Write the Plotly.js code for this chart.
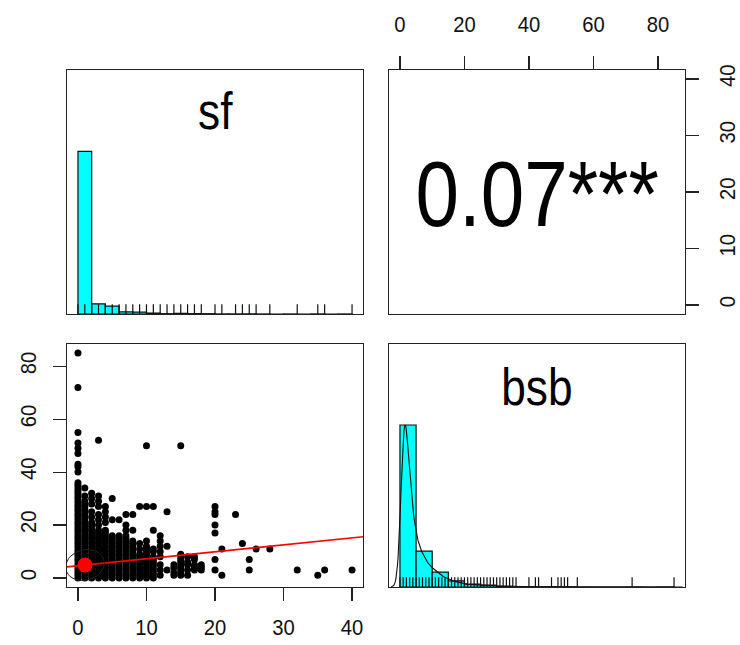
<!DOCTYPE html>
<html><head><meta charset="utf-8">
<script src="https://cdn.plot.ly/plotly-3.0.1.min.js"></script>
<style>html,body{margin:0;padding:0;background:#fff}</style>
</head><body>
<div id="chart" style="width:740px;height:645px"></div>
<script>
// ---------------- data ----------------
const varNames = ['sf', 'bsb'];
const corrLabel = '0.07***';
const sfBinWidth = 2;    // histogram bin width for sf
const bsbBinWidth = 5;   // histogram bin width for bsb

// distinct sf values (x of the scatter)
const sfLevels = [0,1,2,3,4,5,6,7,8,9,10,11,12,13,14,15,16,17,18,20,21,23,24,25,26,28,32,35,36,40];
// bsb values observed at each sf value
const bsbAtLevel = [
  [0,1,2,3,4,5,6,7,8,9,10,11,12,13,14,15,16,17,18,19,20,21,22,23,24,25,26,27,28,29,30,31,32,33,34,35,36,40,42,43,47,49,51,55,72,85],
  [0,1,2,3,4,5,6,7,8,9,10,11,12,13,14,15,16,17,18,19,20,21,22,23,24,25,26,27,28,29,31,34],
  [0,1,2,3,4,5,6,7,8,9,10,11,12,13,14,15,16,17,18,19,20,21,23,25,28,30,32],
  [0,1,2,3,4,5,6,7,8,9,10,11,12,13,14,15,16,17,18,20,22,24,27,29,31,52],
  [0,1,2,3,4,5,6,7,8,9,10,11,12,13,14,15,16,17,18,21,23,25,27],
  [0,1,2,3,4,5,6,7,8,9,10,11,12,13,14,15,16,22,30],
  [0,1,2,3,4,5,6,7,8,9,10,11,12,13,14,15,16,22],
  [0,1,2,3,4,5,6,7,8,9,10,11,12,13,14,15,16,18,20,24],
  [0,1,2,3,4,5,6,7,8,9,10,11,12,13,14,18,24],
  [0,1,2,3,4,5,6,7,8,9,11,13,27],
  [0,1,2,3,4,5,6,7,8,9,10,11,12,14,27,50],
  [0,1,2,3,4,5,6,7,8,10,11,18,27],
  [1,3,5,8,10,12,14,16],
  [3,12,25],
  [1,2,4,5],
  [1,2,3,4,5,6,7,8,9,50],
  [1,3,5,6,8],
  [3,4,5,7,8],
  [3,4,5],
  [3,7,17,20,24,25,27],
  [1,11],
  [24],
  [13],
  [3,7],
  [11],
  [11],
  [3],
  [1],
  [3],
  [3]
];
// number of observations at each (sf, bsb) point
const countAtLevel = [
  [90,855,659,401,250,170,128,100,80,66,56,50,43,37,33,28,22,19,16,14,12,9,7,6,5,5,5,5,4,3,3,3,2,2,1,1,1,1,1,1,1,1,1,1,1,1],
  [8,60,50,35,25,18,14,11,9,7,6,5,4,4,3,3,2,2,2,1,1,1,1,1,1,1,1,1,1,1,1,1],
  [5,35,30,22,16,11,9,7,5,4,4,3,2,2,1,1,1,1,1,1,1,1,1,1,1,1,1],
  [3,16,16,14,12,11,10,8,7,6,5,4,3,1,1,1,1,1,1,1,1,1,1,1,1,1],
  [2,12,12,11,10,9,8,7,6,5,4,4,1,1,1,1,1,1,1,1,1,1,1],
  [2,12,12,11,10,9,8,7,7,5,4,4,1,1,1,1,1,1,1],
  [1,10,10,9,8,7,6,6,5,4,4,1,1,1,1,1,1,1],
  [1,3,2,2,1,1,1,1,2,2,2,2,2,2,2,1,1,1,1,1],
  [1,2,1,1,1,1,1,1,1,1,1,1,1,1,1,1,1],
  [1,2,1,1,1,1,1,1,1,1,1,1,1],
  [1,3,2,2,1,1,2,2,2,2,2,2,2,1,1,1],
  [1,1,1,1,1,1,1,1,1,1,1,1,1],
  [1,1,1,1,1,1,1,1],
  [1,1,1],
  [1,1,1,1],
  [1,1,1,1,1,1,1,1,1,1],
  [1,1,1,1,1],
  [1,1,1,1,1],
  [1,1,1],
  [1,1,1,1,1,1,1],
  [1,1],
  [1],
  [1],
  [1,1],
  [1],
  [1],
  [1],
  [1],
  [1],
  [1]
];
const sfTicks = [0,10,20,30,40];
const bsbTicks = [0,20,40,60,80];

// ---------------- derived ----------------
const px = [], py = [], pw = [];
sfLevels.forEach((s, i) => bsbAtLevel[i].forEach((b, j) => { px.push(s); py.push(b); pw.push(countAtLevel[i][j]); }));
const fullX = [], fullY = [];
px.forEach((x, k) => { for (let c = 0; c < pw[k]; c++) { fullX.push(x); fullY.push(py[k]); } });
const N = fullX.length;
const mean = a => a.reduce((s, v) => s + v, 0) / a.length;
const xm = mean(fullX), ym = mean(fullY);
let sxx = 0, syy = 0, sxy = 0;
for (let i = 0; i < N; i++) { const dx = fullX[i] - xm, dy = fullY[i] - ym; sxx += dx*dx; syy += dy*dy; sxy += dx*dy; }
const xs = Math.sqrt(sxx/(N-1)), ys = Math.sqrt(syy/(N-1)), r = sxy/Math.sqrt(sxx*syy);
const slope = sxy/sxx, icpt = ym - slope*xm;

function padRange(a) { const lo = Math.min(...a), hi = Math.max(...a), d = hi - lo; return [lo - 0.04*d, hi + 0.04*d]; }
const sfRange = padRange(fullX), bsbRange = padRange(fullY);

function quantile7(sorted, p) { const h = (sorted.length - 1)*p, lo = Math.floor(h); return sorted[lo] + (h - lo)*((sorted[lo+1] ?? sorted[lo]) - sorted[lo]); }

function hist(vals, bw) {
  const lo = Math.floor(Math.min(...vals)/bw)*bw, hi = Math.ceil(Math.max(...vals)/bw)*bw;
  const nb = Math.round((hi - lo)/bw), cnt = new Array(nb).fill(0);
  vals.forEach(v => { let k = Math.ceil((v - lo)/bw) - 1; if (k < 0) k = 0; cnt[k]++; });
  const mx = Math.max(...cnt);
  return { x: cnt.map((c, k) => lo + bw*(k + 0.5)), y: cnt.map(c => c/mx) };
}
function density(vals) {
  const s = vals.slice().sort((a, b) => a - b);
  const n = s.length, m = mean(s);
  const sd = Math.sqrt(s.reduce((t, v) => t + (v-m)*(v-m), 0)/(n-1));
  const iqr = quantile7(s, 0.75) - quantile7(s, 0.25);
  const bw = 1.2*1.06*Math.min(sd, iqr/1.34)*Math.pow(n, -0.2);
  if (!(bw > 0)) return null;   // R: bandwidth not positive -> no curve
  const uniq = {}; s.forEach(v => uniq[v] = (uniq[v] || 0) + 1);
  const keys = Object.keys(uniq).map(Number);
  const from = s[0] - 3*bw, to = s[n-1] + 3*bw, gx = [], gy = [];
  for (let i = 0; i < 512; i++) {
    const x = from + (to - from)*i/511; let d = 0;
    keys.forEach(k => { const z = (x - k)/bw; d += uniq[k]*Math.exp(-0.5*z*z); });
    gx.push(x); gy.push(d);
  }
  const mx = Math.max(...gy);
  return { x: gx, y: gy.map(v => v/mx) };
}
function rug(vals, xa, ya, len) {
  const u = [...new Set(vals)].sort((a, b) => a - b), x = [], y = [];
  u.forEach(v => { x.push(v, v, null); y.push(0, len, null); });
  return { x, y, xaxis: xa, yaxis: ya, mode: 'lines', line: { color: '#111', width: 1.2 }, hoverinfo: 'skip', type: 'scatter' };
}

const hSf = hist(fullX, sfBinWidth), hBsb = hist(fullY, bsbBinWidth);
const dBsb = density(fullY), dSf = density(fullX);

// correlation ellipse as in psych::draw.ellipse
const ex = [], ey = [];
{
  const th = r !== 0 ? Math.sign(r)/Math.SQRT2 : 1/Math.SQRT2;
  const a = Math.sqrt(1 + r), b = Math.sqrt(1 - r);
  for (let i = 0; i <= 51; i++) {
    const ang = i*2*Math.PI/51, c = Math.cos(ang), s = Math.sin(ang);
    const u = c*a*th + s*b*(-th), v = c*a*th + s*b*th;
    ex.push(u*xs + xm); ey.push(v*ys + ym);
  }
}

const cyan = '#00FFFF';
const traces = [
  { type: 'bar', x: hSf.x, y: hSf.y, width: sfBinWidth, xaxis: 'x', yaxis: 'y', marker: { color: cyan, line: { color: '#111', width: 1.2 } }, hoverinfo: 'skip' },
  rug(fullX, 'x', 'y', 0.06),
  { type: 'scatter', mode: 'markers', x: [null], y: [null], xaxis: 'x2', yaxis: 'y2', hoverinfo: 'skip' },
  { type: 'bar', x: hBsb.x, y: hBsb.y, width: bsbBinWidth, xaxis: 'x4', yaxis: 'y4', marker: { color: cyan, line: { color: '#111', width: 1.2 } }, hoverinfo: 'skip' },
  rug(fullY, 'x4', 'y4', 0.06),
  { type: 'scatter', mode: 'markers', x: px, y: py, xaxis: 'x3', yaxis: 'y3', marker: { color: '#000', size: 7 }, hoverinfo: 'skip' },
  { type: 'scatter', mode: 'lines', x: sfRange, y: sfRange.map(v => icpt + slope*v), xaxis: 'x3', yaxis: 'y3', line: { color: '#FF0000', width: 1.6 }, hoverinfo: 'skip' },
  { type: 'scatter', mode: 'markers', x: [xm], y: [ym], xaxis: 'x3', yaxis: 'y3', marker: { color: '#FF0000', size: 15 }, hoverinfo: 'skip' },
  { type: 'scatter', mode: 'lines', x: ex, y: ey, xaxis: 'x3', yaxis: 'y3', line: { color: '#222', width: 1 }, hoverinfo: 'skip' }
];
if (dBsb) traces.push({ type: 'scatter', mode: 'lines', x: dBsb.x, y: dBsb.y, xaxis: 'x4', yaxis: 'y4', line: { color: '#111', width: 1.1 }, hoverinfo: 'skip' });
if (dSf) traces.push({ type: 'scatter', mode: 'lines', x: dSf.x, y: dSf.y, xaxis: 'x', yaxis: 'y', line: { color: '#111', width: 1.1 }, hoverinfo: 'skip' });

const W = 740, H = 645;
const col1 = [67/W, 363/W], col2 = [389/W, 685/W];
const row1 = [1 - 314/H, 1 - 70/H], row2 = [1 - 587/H, 1 - 344/H];
const FONT = 'Liberation Sans, Arial, sans-serif';
const frame = { showline: true, mirror: true, linecolor: '#222', linewidth: 1.3, showgrid: false, zeroline: false, fixedrange: true };
const noTicks = Object.assign({}, frame, { ticks: '', showticklabels: false });
const withTicks = Object.assign({}, frame, { ticks: 'outside', ticklen: 13, tickwidth: 1.2, tickcolor: '#222', tickfont: { family: FONT, size: 22, color: '#111' } });

const layout = {
  width: W, height: H, margin: { l: 0, r: 0, t: 0, b: 0 },
  paper_bgcolor: '#fff', plot_bgcolor: '#fff', showlegend: false, bargap: 0,
  xaxis:  Object.assign({}, noTicks, { domain: col1, anchor: 'y', range: sfRange }),
  yaxis:  Object.assign({}, noTicks, { domain: row1, anchor: 'x', range: [0, 1.5] }),
  xaxis2: Object.assign({}, withTicks, { domain: col2, anchor: 'y2', range: bsbRange, side: 'top', tickvals: bsbTicks, ticklabelstandoff: 15 }),
  yaxis2: Object.assign({}, withTicks, { domain: row1, anchor: 'x2', range: sfRange, side: 'right', tickvals: sfTicks, tickangle: -90, ticklabelstandoff: 9 }),
  xaxis3: Object.assign({}, withTicks, { domain: col1, anchor: 'y3', range: sfRange, tickvals: sfTicks, ticklabelstandoff: 7 }),
  yaxis3: Object.assign({}, withTicks, { domain: row2, anchor: 'x3', range: bsbRange, tickvals: bsbTicks, tickangle: -90, ticklabelstandoff: 8 }),
  xaxis4: Object.assign({}, noTicks, { domain: col2, anchor: 'y4', range: bsbRange }),
  yaxis4: Object.assign({}, noTicks, { domain: row2, anchor: 'x4', range: [0, 1.5] }),
  annotations: [
    { text: varNames[0], xref: 'x domain', yref: 'y domain', x: 0.5, y: 0.83, xanchor: 'center', yanchor: 'middle', showarrow: false, font: { family: FONT, size: 52, color: '#000' } },
    { text: varNames[1], xref: 'x4 domain', yref: 'y4 domain', x: 0.5, y: 0.825, xanchor: 'center', yanchor: 'middle', showarrow: false, font: { family: FONT, size: 52, color: '#000' } },
    { text: corrLabel, xref: 'x2 domain', yref: 'y2 domain', x: 0.5, y: 0.49, xanchor: 'center', yanchor: 'middle', showarrow: false, font: { family: FONT, size: 92, color: '#000' } }
  ]
};

// the reference glyphs are horizontally condensed; squeeze text widths
function squeeze(sel, f) {
  document.querySelectorAll(sel).forEach(t => {
    const w = t.getComputedTextLength();
    if (w > 0) { t.setAttribute('textLength', (w*f).toFixed(1)); t.setAttribute('lengthAdjust', 'spacingAndGlyphs'); }
  });
}
Plotly.newPlot('chart', traces, layout, { staticPlot: true, displayModeBar: false }).then(() => {
  squeeze('.annotation-text', 0.85);
  squeeze('g.x2tick text, g.x3tick text, g.y2tick text, g.y3tick text', 0.92);
});
</script>
</body></html>
